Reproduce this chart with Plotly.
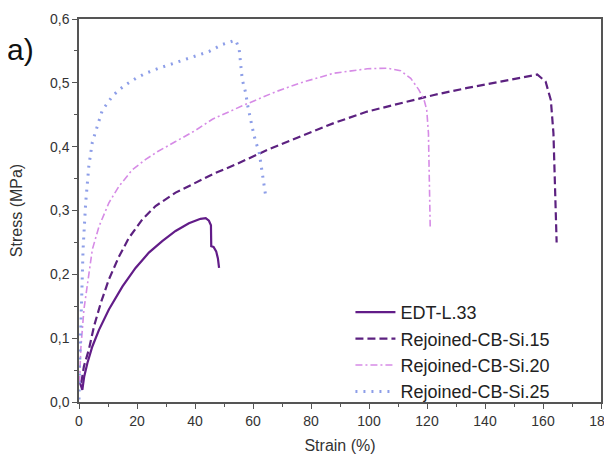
import plotly.graph_objects as go

# Dane (odkształcenie %, naprężenie MPa)
edt_strain = [0.0, 0.5, 1.15, 1.8, 2.9, 4.6, 6.9, 10.3, 15.0, 19.5, 24.1, 28.7, 33.3, 37.9,
              40.5, 41.9, 43.7, 44.8, 45.5, 45.6, 46.4, 47.3, 47.9, 48.3]
edt_stress = [0.035, 0.028, 0.019, 0.04, 0.061, 0.087, 0.113, 0.145, 0.181, 0.21, 0.234, 0.252,
              0.268, 0.28, 0.285, 0.287, 0.288, 0.284, 0.277, 0.244, 0.243, 0.236, 0.225, 0.21]

si15_strain = [0.8, 1.7, 3.4, 5.2, 7.5, 10.3, 13.8, 17.2, 21.8, 26.4, 33.3, 40.2, 47.1, 54.0,
               65.0, 76.4, 87.9, 99.4, 110.9, 122.4, 133.9, 145.4, 154.6, 158.0, 160.9, 162.7,
               163.6, 164.0, 164.4, 164.7]
si15_stress = [0.03, 0.056, 0.082, 0.119, 0.155, 0.192, 0.228, 0.257, 0.286, 0.307, 0.328, 0.343,
               0.359, 0.372, 0.395, 0.416, 0.437, 0.455, 0.468, 0.481, 0.492, 0.502, 0.511, 0.513,
               0.502, 0.473, 0.421, 0.343, 0.28, 0.25]

si20_strain = [0.2, 0.6, 1.7, 2.9, 4.6, 6.9, 10.3, 13.8, 18.4, 23.0, 27.0, 33.3, 40.0, 46.0, 56.3,
               67.8, 76.4, 87.8, 99.4, 106.3, 110.9, 114.4, 117.2, 119.0, 119.9, 120.5, 120.7,
               121.0, 121.1]
si20_stress = [0.03, 0.082, 0.145, 0.187, 0.239, 0.275, 0.312, 0.338, 0.364, 0.38, 0.392, 0.408,
               0.425, 0.443, 0.464, 0.486, 0.5, 0.515, 0.522, 0.523, 0.519, 0.507, 0.489, 0.473,
               0.458, 0.421, 0.369, 0.317, 0.275]

si25_strain = [0.0, 0.2, 0.9, 1.4, 2.3, 3.4, 4.6, 6.0, 6.9, 8.1, 9.8, 11.5, 13.8, 16.1, 19.6, 23.0,
               27.6, 33.3, 39.1, 44.8, 49.4, 54.0, 55.2, 55.8, 56.3, 57.5, 58.1, 59.8, 60.9, 62.1,
               63.3, 64.4]
si25_stress = [0.004, 0.056, 0.16, 0.239, 0.312, 0.37, 0.407, 0.429, 0.443, 0.458, 0.468, 0.479,
               0.489, 0.497, 0.507, 0.515, 0.523, 0.532, 0.541, 0.549, 0.56, 0.567, 0.554, 0.531,
               0.505, 0.484, 0.466, 0.429, 0.408, 0.392, 0.356, 0.322]

x_ticks = [0, 20, 40, 60, 80, 100, 120, 140, 160, 180]
y_ticks = [0.0, 0.1, 0.2, 0.3, 0.4, 0.5, 0.6]

fig = go.Figure()
fig.add_trace(go.Scatter(x=edt_strain, y=edt_stress, mode='lines', name='EDT-L.33',
                         line=dict(color='#621c88', width=2.2)))
fig.add_trace(go.Scatter(x=si15_strain, y=si15_stress, mode='lines', name='Rejoined-CB-Si.15',
                         line=dict(color='#5c2180', width=2.2, dash='8px,4px')))
fig.add_trace(go.Scatter(x=si20_strain, y=si20_stress, mode='lines', name='Rejoined-CB-Si.20',
                         line=dict(color='#d68be6', width=1.6, dash='7px,3px,2px,3px')))
fig.add_trace(go.Scatter(x=si25_strain, y=si25_stress, mode='lines', name='Rejoined-CB-Si.25',
                         line=dict(color='#8d9ee8', width=3, dash='2px,6px')))

axis_style = dict(showline=True, mirror=True, linecolor='#555', linewidth=1.5,
                  ticks='outside', ticklen=5, tickwidth=1.3, tickcolor='#555',
                  showgrid=False, zeroline=False, automargin=False, ticklabeloverflow='allow',
                  tickfont=dict(family='Liberation Sans, Arial', size=14, color='#333'),
                  title_font=dict(family='Liberation Sans, Arial', size=16, color='#333'))

fig.update_xaxes(range=[0, 180], tickvals=x_ticks, title_text='Strain (%)', title_standoff=12,
                 minor=dict(ticks='outside', ticklen=3, dtick=10, tickcolor='#555'),
                 **axis_style)
fig.update_yaxes(range=[0, 0.6], tickvals=y_ticks, tickformat='.1f', title_text='Stress (MPa)',
                 title_standoff=23,
                 minor=dict(ticks='outside', ticklen=3, dtick=0.05, tickcolor='#555'),
                 **axis_style)

fig.add_annotation(text='a)', xref='paper', yref='paper', x=-0.142, y=0.92, showarrow=False,
                   xanchor='left', yanchor='middle',
                   font=dict(family='Liberation Sans, Arial', size=30, color='#111'))

# strona ma 8px marginesu body - figura przesunięta, prawy/dolny margines powiększony
fig.update_layout(
    width=612, height=458,
    margin=dict(l=71, r=19, t=11, b=64),
    plot_bgcolor='white', paper_bgcolor='white',
    separators=',.',
    legend=dict(x=0.52, y=0.282, xanchor='left', yanchor='top', bgcolor='rgba(0,0,0,0)',
                font=dict(family='Liberation Sans, Arial', size=18, color='#222'),
                tracegroupgap=0, itemwidth=40),
)

fig.write_html('out.html')
